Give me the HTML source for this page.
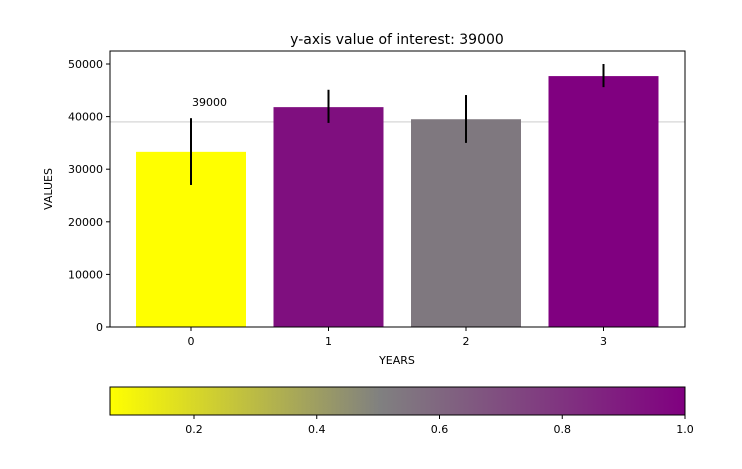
<!DOCTYPE html>
<html><head><meta charset="utf-8"><style>
body{margin:0;background:#fff;font-family:"Liberation Sans","DejaVu Sans",sans-serif;}
svg text{font-family:"DejaVu Sans","Liberation Sans",sans-serif;}
</style></head><body>
<svg id="chart" width="742" height="464" viewBox="0 0 742 464">
<defs><linearGradient id="cg" x1="0" x2="1" y1="0" y2="0">
<stop offset="0" stop-color="#ffff00"/><stop offset="0.47" stop-color="#808080"/><stop offset="1" stop-color="#800080"/>
</linearGradient></defs>
<text x="397" y="44" text-anchor="middle" font-size="14">y-axis value of interest: 39000</text>
<text transform="translate(52,189) rotate(-90)" text-anchor="middle" font-size="11">VALUES</text>
<text x="397" y="364" text-anchor="middle" font-size="11">YEARS</text>
<g id="plot"></g>
<rect x="110" y="387" width="575" height="28" fill="url(#cg)" stroke="#000" stroke-width="1"/>
<g id="cbar"></g>
</svg>
<script>
const categories=["0","1","2","3"];
const values=[33300,41800,39500,47700];
const errLow=[27000,38800,35000,45600];
const errHigh=[39700,45100,44100,50000];
const colors=["#ffff00","#7f0f7f","#7f787f","#800080"];
const yTicks=[0,10000,20000,30000,40000,50000];
const refValue=39000;
const cbTicks=[0.2,0.4,0.6,0.8,1.0];
const NS="http://www.w3.org/2000/svg";
const L=110,R=685,T=51,B=327;
const x=i=>191+i*137.5;
const y=v=>B-v*(B-64)/50000;
const cx=v=>194+(v-0.2)*(685-194)/0.8;
const g=document.getElementById('plot');
function mk(t,a,p){const e=document.createElementNS(NS,t);for(const k in a)e.setAttribute(k,a[k]);(p||g).appendChild(e);return e;}
const rl=mk('line',{x1:L,x2:R,y1:y(refValue),y2:y(refValue),stroke:'#ddd','stroke-width':1.5});


values.forEach((v,i)=>{
 const b=mk('rect',{x:x(i)-55,y:y(v),width:110,height:B-y(v),fill:colors[i]});
 
 
 const e=mk('line',{x1:x(i),x2:x(i),y1:y(errHigh[i]),y2:y(errLow[i]),stroke:'#000','stroke-width':2});
 
 
 mk('line',{x1:x(i),x2:x(i),y1:B,y2:B+4,stroke:'#000'});
 const t=mk('text',{x:x(i),y:B+18,'text-anchor':'middle','font-size':11});
 t.textContent=categories[i];
 
 
});
const rt=mk('text',{x:x(0)+1,y:y(refValue)-16,'font-size':11});
rt.textContent=String(refValue);


yTicks.forEach(v=>{
 mk('line',{x1:L-4,x2:L,y1:y(v),y2:y(v),stroke:'#000'});
 const t=mk('text',{x:L-7,y:y(v)+4,'text-anchor':'end','font-size':11});
 t.textContent=v;
 
 
});
const f=mk('rect',{x:L,y:T,width:R-L,height:B-T,fill:'none',stroke:'#000'});


const cg=document.getElementById('cbar');
cbTicks.forEach(v=>{
 mk('line',{x1:cx(v),x2:cx(v),y1:415,y2:419,stroke:'#000'},cg);
 const t=mk('text',{x:cx(v),y:433,'text-anchor':'middle','font-size':11},cg);
 t.textContent=v.toFixed(1);
 
 
});
</script>
</body></html>
